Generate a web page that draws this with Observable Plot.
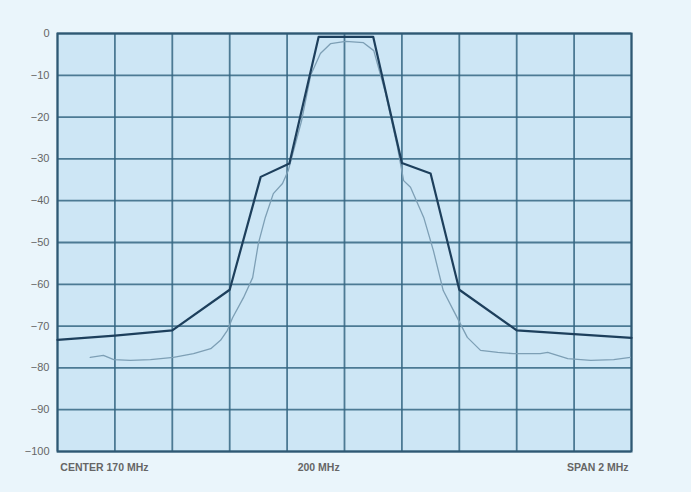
<!DOCTYPE html>
<html>
<head>
<meta charset="utf-8">
<script src="https://cdn.jsdelivr.net/npm/d3@7"></script>
<script src="https://cdn.jsdelivr.net/npm/@observablehq/plot@0.6"></script>
<style>
  html, body { margin: 0; padding: 0; background: #eaf5fb; }
  #chart { width: 691px; height: 492px; }
</style>
</head>
<body>
<div id="chart"></div>
<script>
// Frequency position in screen divisions (0–10), level in dB
const darkX = [0, 1, 2, 3, 3.54, 4.04, 4.55, 5.5, 6.0, 6.5, 7.0, 8.0, 10];
const darkY = [-73.3, -72.3, -71.0, -61.3, -34.3, -31.1, -0.8, -0.8, -31.0, -33.5, -61.3, -71.0, -72.8];

const lightX = [0.57, 0.80, 0.98, 1.27, 1.62, 2.02, 2.37, 2.67, 2.84, 2.96, 3.05, 3.24, 3.40, 3.50, 3.62, 3.76, 3.92, 4.02, 4.25, 4.41, 4.58, 4.76, 5.02, 5.33, 5.51, 5.71, 5.92, 6.03, 6.15, 6.38, 6.55, 6.72, 6.90, 7.14, 7.37, 7.67, 7.94, 8.41, 8.54, 8.89, 9.29, 9.69, 9.98];
const lightY = [-77.5, -77.0, -78.0, -78.2, -78.0, -77.5, -76.6, -75.4, -73.4, -71.0, -68.0, -63.2, -58.4, -50.2, -44.0, -38.3, -35.9, -32.8, -21.0, -10.0, -4.8, -2.4, -1.9, -2.2, -4.1, -14.0, -27.0, -35.2, -36.8, -44.0, -52.0, -61.5, -66.3, -72.7, -75.8, -76.3, -76.6, -76.6, -76.3, -77.8, -78.2, -78.0, -77.5];

const xGrid = [0, 1, 2, 3, 4, 5, 6, 7, 8, 9, 10];
const yTicks = [0, -10, -20, -30, -40, -50, -60, -70, -80, -90, -100];

const bottomLabels = ["CENTER 170 MHz", "200 MHz", "SPAN 2 MHz"];
const bottomLabelX = [0.05, 4.55, 9.95];
const bottomLabelAnchor = ["start", "middle", "end"];

const dark = darkX.map((x, i) => ({x, y: darkY[i]}));
const light = lightX.map((x, i) => ({x, y: lightY[i]}));
const labels = bottomLabels.map((t, i) => ({t, x: bottomLabelX[i], a: bottomLabelAnchor[i]}));

const chart = Plot.plot({
  width: 691,
  height: 492,
  marginLeft: 57,
  marginRight: 60,
  marginTop: 33,
  marginBottom: 41,
  style: {background: "transparent", fontFamily: "Liberation Sans, Arial, sans-serif"},
  x: {domain: [0, 10], axis: null},
  y: {domain: [-100, 0], ticks: yTicks, tickSize: 0, tickPadding: 8, label: null,
      tickFormat: d => d === 0 ? "0" : "\u2212" + Math.abs(d)},
  marks: [
    Plot.frame({fill: "#cde6f5", stroke: null}),
    Plot.ruleX(xGrid, {stroke: "#356683", strokeWidth: 1.8, strokeOpacity: 0.85}),
    Plot.ruleY(yTicks, {stroke: "#356683", strokeWidth: 1.8, strokeOpacity: 0.85}),
    Plot.frame({stroke: "#2f5873", strokeWidth: 2}),
    Plot.line(light, {x: "x", y: "y", stroke: "#7d9fb5", strokeWidth: 1.3, curve: "linear"}),
    Plot.line(dark, {x: "x", y: "y", stroke: "#1d3f5c", strokeWidth: 2.2, curve: "linear"}),
    ...labels.map(l => Plot.text([l], {x: "x", y: -100, text: "t", textAnchor: l.a, dy: 16,
      fill: "#666", fontSize: 10.5, fontWeight: "bold"}))
  ]
});
chart.querySelectorAll("[aria-label='y-axis tick label'] text, g[aria-label='y-axis tick label']").forEach(el => {
  el.setAttribute("fill", "#666");
});
chart.style.fontSize = "11px";
document.getElementById("chart").appendChild(chart);
</script>
</body>
</html>
